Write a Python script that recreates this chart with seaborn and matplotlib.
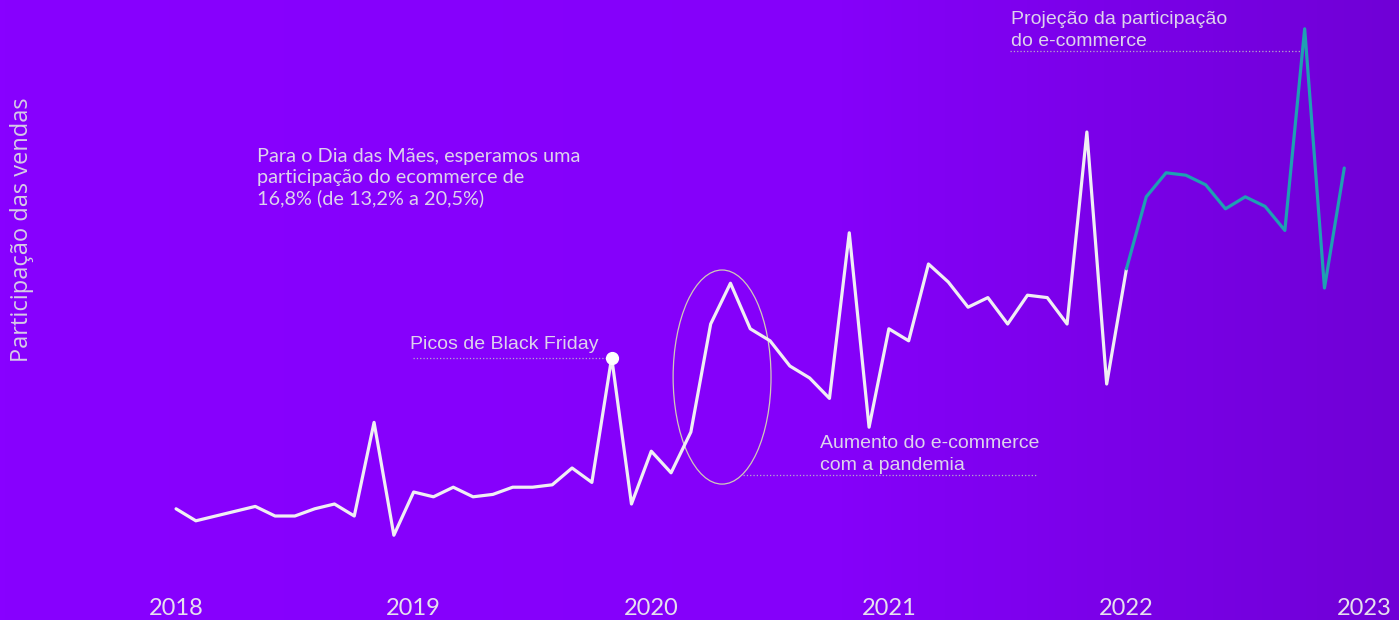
import numpy as np
import pandas as pd
import matplotlib.pyplot as plt
import seaborn as sns
from matplotlib.patches import Ellipse
from matplotlib.colors import LinearSegmentedColormap

# Participação mensal do e-commerce (%), jan/2018 a jan/2022
historico = [3.8, 3.3, 3.5, 3.7, 3.9, 3.5, 3.5, 3.8, 4.0, 3.5, 7.4, 2.7,
             4.5, 4.3, 4.7, 4.3, 4.4, 4.7, 4.7, 4.8, 5.5, 4.9, 10.1, 4.0,
             6.2, 5.3, 7.0, 11.5, 13.2, 11.3, 10.8, 9.75, 9.25, 8.4, 15.3, 7.2,
             11.3, 10.8, 14.0, 13.25, 12.2, 12.6, 11.5, 12.7, 12.6, 11.5, 19.5, 9.0,
             13.8]
# Projeção, jan/2022 a dez/2022
projecao = [13.8, 16.8, 17.8, 17.7, 17.3, 16.3, 16.8, 16.4, 15.4, 23.8, 13.0, 18.0]
anos = [2018, 2019, 2020, 2021, 2022, 2023]

df_hist = pd.DataFrame({'data': 2018 + np.arange(len(historico)) / 12, 'valor': historico})
df_proj = pd.DataFrame({'data': 2022 + np.arange(len(projecao)) / 12, 'valor': projecao})

sns.set_theme(style="white")
plt.rcParams['font.family'] = ['Liberation Sans', 'DejaVu Sans']

fig = plt.figure(figsize=(13.99, 6.2), dpi=100)
ax = fig.add_axes([0, 0, 1, 1])

# Background gradient
bg = LinearSegmentedColormap.from_list('bg', [(0, '#8800ff'), (0.6, '#8500fa'), (1, '#7000d6')])
grad = np.linspace(0, 1, 256).reshape(1, -1)
ax.imshow(grad, extent=[0, 1, 0, 1], transform=ax.transAxes, aspect='auto', cmap=bg, zorder=0)

sns.lineplot(data=df_hist, x='data', y='valor', ax=ax, color='#f0eef4', linewidth=2.3, zorder=3)
sns.lineplot(data=df_proj, x='data', y='valor', ax=ax, color='#1fa0b2', linewidth=2.3, zorder=3)

ax.set_xlim(2017.259, 2023.147)
ax.set_ylim(-0.833, 25)
for s in ax.spines.values():
    s.set_visible(False)
ax.set_xlabel('')
ax.set_ylabel('')
ax.set_yticks([])
ax.set_xticks(anos)
ax.set_xticklabels([str(a) for a in anos], family=['Lato', 'DejaVu Sans'], fontsize=17, color='#e6e0ee')
ax.tick_params(axis='x', length=0, pad=-16)

txt = '#ddd3ec'
dot = '#b7a8cc'

# y label
ax.text(0.016, 0.63, 'Participação das vendas', transform=ax.transAxes, rotation=90,
        ha='center', va='center', fontsize=17, color='#d6cce6', family=['Open Sans', 'DejaVu Sans'])

# Dia das Mães
ax.text(2018.341, 18.82, 'Para o Dia das Mães, esperamos uma\nparticipação do ecommerce de\n16,8% (de 13,2% a 20,5%)',
        ha='left', va='top', fontsize=14.3, color=txt, family=['Lato', 'DejaVu Sans'], linespacing=1.25)

# Black Friday
bf_x, bf_y = df_hist['data'][22], df_hist['valor'][22]
ax.plot([2018.997, bf_x], [bf_y, bf_y], ls=':', lw=0.9, color=dot, zorder=2)
ax.plot([bf_x], [bf_y], 'o', ms=8.5, color='white', zorder=4)
ax.text(2018.985, bf_y + 0.2, 'Picos de Black Friday', ha='left', va='bottom', fontsize=14, color=txt)

# Pandemia
ax.add_patch(Ellipse((2020.298, 9.29), 0.412, 8.92, fill=False, lw=0.9, ec='#cfcab8', zorder=2))
ax.plot([2020.386, 2021.624], [5.21, 5.21], ls=':', lw=0.9, color=dot, zorder=2)
ax.text(2020.71, 5.25, 'Aumento do e-commerce\ncom a pandemia', ha='left', va='bottom',
        fontsize=14, color=txt, linespacing=1.4)

# Projeção
pk_x = df_proj['data'][9]
ax.plot([2021.51, pk_x], [22.875, 22.875], ls=':', lw=0.9, color=dot, zorder=2)
ax.text(2021.515, 22.9, 'Projeção da participação\ndo e-commerce', ha='left', va='bottom',
        fontsize=14, color=txt, linespacing=1.4)

plt.savefig('out.png', dpi=100)
